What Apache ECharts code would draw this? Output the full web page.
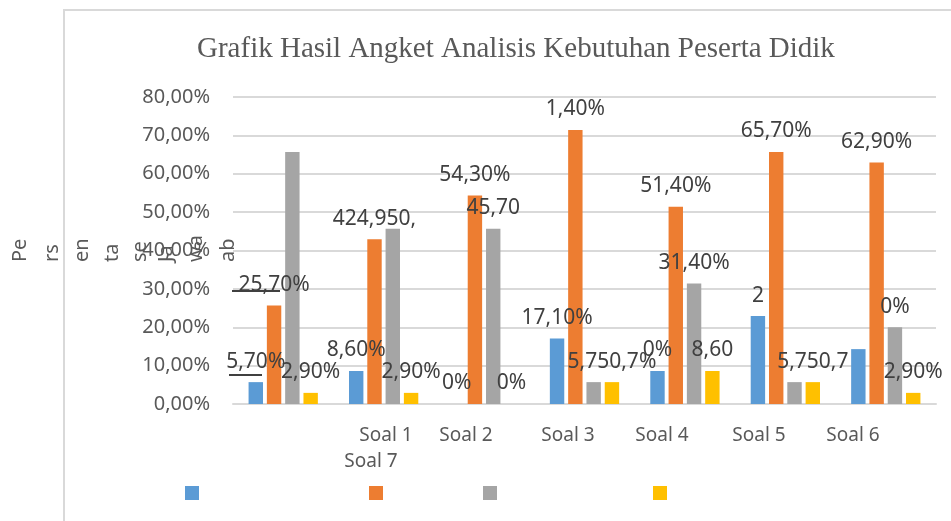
<!DOCTYPE html>
<html>
<head>
<meta charset="utf-8">
<script src="https://cdn.jsdelivr.net/npm/echarts@6/dist/echarts.min.js"></script>
<style>
  html, body { margin: 0; padding: 0; background: #fff; }
  #chart { width: 951px; height: 521px; }
</style>
</head>
<body>
<div id="chart"></div>
<script>
// data (percent)
const categories = ['Soal 1', 'Soal 2', 'Soal 3', 'Soal 4', 'Soal 5', 'Soal 6', 'Soal 7']
const seriesNames = ['Sangat Perlu', 'Perlu', 'Kurang Perlu', 'Tidak Perlu']
const blueValues = [5.7, 8.6, 0, 17.1, 8.6, 22.9, 14.3]
const orangeValues = [25.7, 42.9, 54.3, 71.4, 51.4, 65.7, 62.9]
const grayValues = [65.7, 45.7, 45.7, 5.7, 31.4, 5.7, 20.0]
const yellowValues = [2.9, 2.9, 0, 5.7, 8.6, 5.7, 2.9]

// data labels as they show in the picture (some are cut / overlapped)
const blueLabels = ['5,70%', '8,60%', '0%', '17,10%', '0%', '2', '']
const orangeLabels = ['25,70%', '424,950,', '54,30%', '1,40%', '51,40%', '65,70%', '62,90%']
const grayLabels = ['', '', '45,70', '', '31,40%', '', '0%']
const yellowLabels = ['2,90%', '2,90%', '0%', '5,750,7%', '8,60', '5,750,7', '2,90%']

// axis name, broken into pieces as in the picture
const axisNameParts = ['Pe', 'rs', 'en', 'ta', 'se', 'Ja', 'wa', 'ab']

const colors = ['#5B9BD5', '#ED7D31', '#A5A5A5', '#FFC000']
const font = '"Noto Sans", "Open Sans", sans-serif'

let chartDom = document.getElementById('chart')
let myChart = echarts.init(chartDom)

let allValues = [blueValues, orangeValues, grayValues, yellowValues]
let allLabels = [blueLabels, orangeLabels, grayLabels, yellowLabels]

let series = seriesNames.map(function (name, i) {
  return {
    name: name,
    type: 'bar',
    data: allValues[i],
    barGap: '27%',
    barCategoryGap: '31%',
    itemStyle: {color: colors[i]},
    label: {
      show: true,
      position: 'top',
      distance: 10,
      fontFamily: font,
      fontSize: 21,
      color: '#404040',
      formatter: function (p) {
        return allLabels[i][p.dataIndex]
      }
    }
  }
})

// legend: four separate swatches, no text
let legendLeft = [180, 364, 478, 648]
let legends = seriesNames.map(function (name, i) {
  return {
    data: [name],
    left: legendLeft[i],
    top: 481,
    icon: 'rect',
    itemWidth: 14,
    itemHeight: 14,
    selectedMode: false,
    formatter: function () { return '' },
    textStyle: {color: 'rgba(0,0,0,0)'}
  }
})

let graphics = []
// chart area border (left and top)
graphics.push({
  type: 'polyline',
  shape: {points: [[64, 521], [64, 10], [951, 10]]},
  style: {stroke: '#d9d9d9', lineWidth: 2, fill: null}
})
// the two short leader strokes under the first labels
graphics.push({type: 'line', shape: {x1: 232, y1: 291, x2: 280, y2: 291}, style: {stroke: '#404040', lineWidth: 2}})
graphics.push({type: 'line', shape: {x1: 229, y1: 375, x2: 262, y2: 375}, style: {stroke: '#404040', lineWidth: 2}})
// x labels sit where the picture has them
let xLabelPos = [[386, 436], [466, 436], [568, 436], [662, 436], [759, 436], [853, 436], [371, 462]]
categories.forEach(function (c, i) {
  graphics.push({
    type: 'text',
    x: xLabelPos[i][0],
    y: xLabelPos[i][1],
    style: {text: c, fontFamily: font, fontSize: 19, fill: '#595959', align: 'center', verticalAlign: 'middle'}
  })
})
// rotated axis-name pieces
let namePos = [20, 52, 82, 112, 140, 166, 196, 228]
axisNameParts.forEach(function (t, i) {
  graphics.push({
    type: 'text',
    x: namePos[i],
    y: 262,
    rotation: Math.PI / 2,
    style: {text: t, fontFamily: font, fontSize: 20, fill: '#595959', align: 'left', verticalAlign: 'middle'}
  })
})

let option = {
  animation: false,
  title: {
    text: 'Grafik Hasil Angket Analisis Kebutuhan Peserta Didik',
    left: 192,
    top: 30,
    textStyle: {
      fontFamily: '"Liberation Serif", serif',
      fontWeight: 'normal',
      fontSize: 29,
      color: '#595959'
    }
  },
  legend: legends,
  grid: {left: 233, right: 15, top: 97, bottom: 117, containLabel: false, outerBoundsMode: 'none'},
  xAxis: {
    type: 'category',
    data: categories,
    axisTick: {show: false},
    axisLabel: {show: false},
    axisLine: {lineStyle: {color: '#d9d9d9', width: 2}}
  },
  yAxis: {
    type: 'value',
    min: 0,
    max: 80,
    interval: 10,
    axisLine: {show: false},
    axisTick: {show: false},
    splitLine: {lineStyle: {color: '#d9d9d9', width: 2}},
    axisLabel: {
      margin: 23,
      fontFamily: font,
      fontSize: 20,
      color: '#595959',
      formatter: function (value) {
        return value.toFixed(2).replace('.', ',') + '%'
      }
    }
  },
  series: series,
  graphic: graphics
}
myChart.setOption(option, true)
</script>
</body>
</html>
